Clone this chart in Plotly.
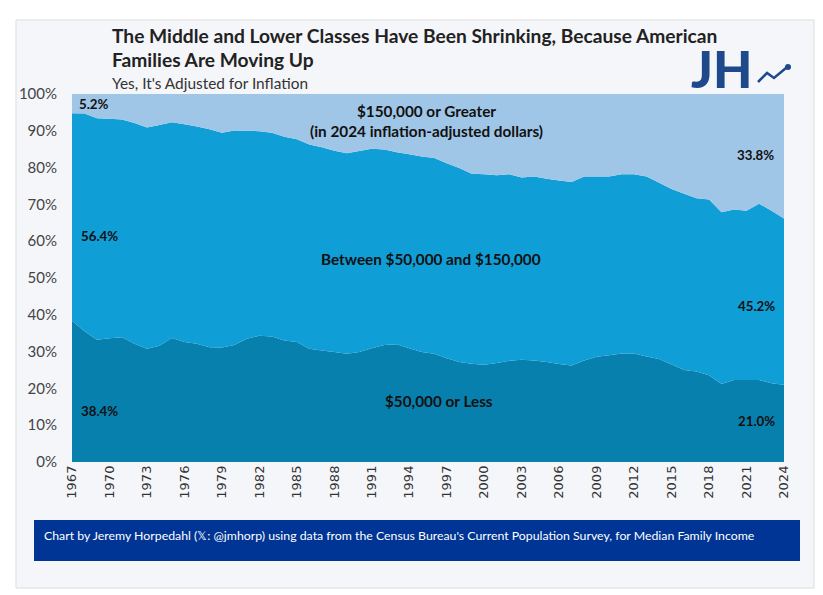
import plotly.graph_objects as go

# shares of families by income band, percent (2024 dollars)
years = list(range(1967, 2025))

under_50k = [38.4, 35.5, 33.2, 33.6, 33.9, 32.1, 30.8, 31.6, 33.7, 32.6,
             32.1, 31.2, 31.1, 31.8, 33.5, 34.3, 34.1, 33.0, 32.6, 30.8,
             30.3, 29.9, 29.4, 29.9, 30.9, 31.8, 32.0, 30.9, 29.9, 29.4,
             28.2, 27.2, 26.7, 26.4, 26.9, 27.5, 27.8, 27.6, 27.2, 26.6,
             26.2, 27.6, 28.6, 29.0, 29.5, 29.5, 28.7, 28.0, 26.5, 25.0,
             24.6, 23.6, 21.2, 22.3, 22.3, 22.3, 21.4, 21.0]

between_50k_150k = [56.4, 59.2, 60.2, 59.7, 59.2, 60.0, 60.1, 60.0, 58.6, 59.2,
                    59.1, 59.2, 58.4, 58.3, 56.5, 55.6, 55.4, 55.4, 55.1, 55.5,
                    55.2, 54.7, 54.5, 54.6, 54.2, 53.1, 52.2, 52.7, 53.1, 53.2,
                    53.0, 52.7, 51.6, 51.8, 51.0, 50.7, 49.5, 50.0, 49.8, 49.9,
                    49.9, 50.0, 49.0, 48.6, 48.7, 48.7, 48.9, 47.9, 47.7, 47.9,
                    47.1, 47.7, 46.7, 46.3, 46.0, 47.9, 46.9, 45.2]

over_150k = [5.2, 5.3, 6.6, 6.7, 6.9, 7.9, 9.1, 8.4, 7.7, 8.2,
             8.8, 9.6, 10.5, 9.9, 10.0, 10.1, 10.5, 11.6, 12.3, 13.7,
             14.5, 15.4, 16.1, 15.5, 14.9, 15.1, 15.8, 16.4, 17.0, 17.4,
             18.8, 20.1, 21.7, 21.8, 22.1, 21.8, 22.7, 22.4, 23.0, 23.5,
             23.9, 22.4, 22.4, 22.4, 21.8, 21.8, 22.4, 24.1, 25.8, 27.1,
             28.3, 28.7, 32.1, 31.4, 31.7, 29.8, 31.7, 33.8]

tick_years = list(range(1967, 2025, 3))

fig = go.Figure()
fig.add_trace(go.Scatter(x=years, y=under_50k, stackgroup="inc", mode="none",
                         fillcolor="#0880ae", name="$50,000 or Less"))
fig.add_trace(go.Scatter(x=years, y=between_50k_150k, stackgroup="inc", mode="none",
                         fillcolor="#109ed6", name="Between $50,000 and $150,000"))
fig.add_trace(go.Scatter(x=years, y=over_150k, stackgroup="inc", mode="none",
                         fillcolor="#a0c6e7", name="$150,000 or Greater"))

lab = dict(font=dict(family="Lato", size=15.3, color="#111111"), showarrow=False)
pct = dict(font=dict(family="Lato", size=13.3, color="#111111"), showarrow=False)

notes = [
    dict(x=1967.4, y=97.3, text="<b>5.2%</b>", xanchor="left", **pct),
    dict(x=1995.4, y=92.7, text="<b>$150,000 or Greater<br>(in 2024 inflation-adjusted dollars)</b>", **lab),
    dict(x=2021.7, y=83.4, text="<b>33.8%</b>", **pct),
    dict(x=1967.6, y=61.4, text="<b>56.4%</b>", xanchor="left", **pct),
    dict(x=1995.7, y=55.2, text="<b>Between $50,000 and $150,000</b>", **lab),
    dict(x=2021.8, y=42.4, text="<b>45.2%</b>", **pct),
    dict(x=1967.6, y=13.9, text="<b>38.4%</b>", xanchor="left", **pct),
    dict(x=1996.4, y=16.6, text="<b>$50,000 or Less</b>", **lab),
    dict(x=2021.8, y=11.2, text="<b>21.0%</b>", **pct),
]

# the page body adds 8px, so the figure is drawn 8px smaller and shifted
OFF = 8
W, H = 823 - OFF, 595 - OFF
L, R, T, B = 72 - OFF, 784 - OFF, 94 - OFF, 462 - OFF


def px(x):
    return (x - OFF - L) / (R - L)


def py(y):
    return (B - (y - OFF)) / (B - T)


notes += [
    dict(xref="paper", yref="paper", x=px(110), y=py(35), xanchor="left", yanchor="middle",
         text="<b>The Middle and Lower Classes Have Been Shrinking, Because American</b>",
         font=dict(family="Lato", size=19.2, color="#222222"), showarrow=False),
    dict(xref="paper", yref="paper", x=px(110), y=py(60), xanchor="left", yanchor="middle",
         text="<b>Families Are Moving Up</b>",
         font=dict(family="Lato", size=19.2, color="#222222"), showarrow=False),
    dict(xref="paper", yref="paper", x=px(110), y=py(83), xanchor="left", yanchor="middle",
         text="Yes, It's Adjusted for Inflation",
         font=dict(family="Lato", size=15.4, color="#333333"), showarrow=False),
    dict(xref="paper", yref="paper", x=px(689), y=py(68), xanchor="left", yanchor="middle",
         text="JH", font=dict(family="Lato", size=51, weight=900, color="#1e4a8c"),
         showarrow=False),
    dict(xref="paper", yref="paper", x=px(42), y=py(535), xanchor="left", yanchor="middle",
         text="Chart by Jeremy Horpedahl (\U0001D54F: @jmhorp) using data from the Census Bureau's "
              "Current Population Survey, for Median Family Income",
         font=dict(family="Lato", size=12.3, color="white"), showarrow=False),
]

shapes = [
    dict(type="rect", xref="paper", yref="paper", layer="below",
         x0=px(16), x1=px(814), y0=py(588), y1=py(20),
         fillcolor="#f5f6fa", line=dict(color="#dddddd", width=1)),
    dict(type="rect", xref="paper", yref="paper",
         x0=px(34), x1=px(800), y0=py(561), y1=py(520),
         fillcolor="#003595", line=dict(width=0)),
    dict(type="path", xref="paper", yref="paper",
         path="M {},{} L {},{} L {},{} L {},{}".format(px(758), py(82), px(767), py(73),
                                                     px(774), py(78), px(786), py(68)),
         line=dict(color="#1e4a8c", width=2.5)),
    dict(type="circle", xref="paper", yref="paper",
         x0=px(785), x1=px(791), y0=py(70), y1=py(64),
         fillcolor="#1e4a8c", line=dict(width=0)),
]

fig.update_layout(
    width=W, height=H,
    margin=dict(l=L, r=W - R, t=T, b=H - B),
    paper_bgcolor="white", plot_bgcolor="rgba(0,0,0,0)",
    showlegend=False,
    annotations=notes, shapes=shapes,
    xaxis=dict(range=[1967, 2024], tickvals=tick_years, tickangle=-90,
               showgrid=False, zeroline=False, showline=False,
               tickfont=dict(family="DejaVu Sans", size=13, color="#333333")),
    yaxis=dict(range=[0, 100], dtick=10, ticksuffix="%", showgrid=False,
               zeroline=False, showline=False, ticklabelstandoff=14,
               tickfont=dict(family="Lato", size=15, color="#444444")),
)

fig.write_html("out.html")
